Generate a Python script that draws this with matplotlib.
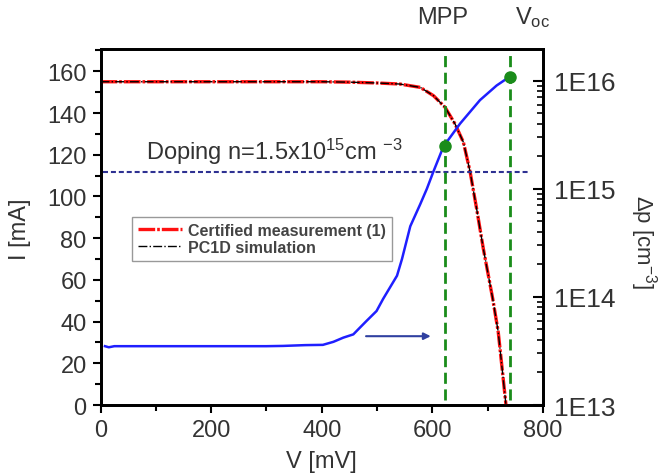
import numpy as np
import matplotlib
matplotlib.use("Agg")
import matplotlib.pyplot as plt
from matplotlib.ticker import MultipleLocator, FuncFormatter, LogLocator, NullFormatter

plt.rcParams['font.family'] = ['Liberation Sans', 'DejaVu Sans']
plt.rcParams['mathtext.default'] = 'regular'

# I-V curve (certified measurement / PC1D simulation coincide)
volt_iv = [0, 100, 200, 300, 400, 450, 500, 541, 578, 602, 623, 641, 656, 668, 680, 692, 709, 719, 733]
current = [155, 155, 155, 155, 155, 154.8, 154.4, 153.9, 152.3, 148.3, 142.7, 134.7, 126, 112, 94, 75, 51, 35, 0]

# excess carrier density along the curve
volt_dp = [8, 15, 25, 100, 200, 300, 330, 370, 402, 421, 439, 457, 469, 481, 499, 511,
           536, 545, 560, 578, 590, 602, 620, 650, 686, 716, 740]
delta_p = [3.5e13, 3.42e13, 3.5e13, 3.5e13, 3.5e13, 3.5e13, 3.52e13, 3.58e13, 3.6e13, 3.84e13,
           4.2e13, 4.5e13, 5.2e13, 6e13, 7.4e13, 9.6e13, 1.57e14, 2.24e14, 4.5e14, 7.2e14,
           1.0e15, 1.45e15, 2.46e15, 4e15, 6.6e15, 9e15, 1.09e16]

v_mpp = 622
v_oc = 740
dp_marks = [2.46e15, 1.09e16]
doping = 1.42e15

fig = plt.figure(figsize=(6.6, 4.77), dpi=100)
ax = fig.add_axes([0.1523, 0.1488, 0.6705, 0.7464])
ax2 = ax.twinx()

# left axis: I-V
ax.plot(volt_iv, current, color='#ff1010', lw=2.4, linestyle=(0, (5, 0.6, 0.8, 0.6)),
        label='Certified measurement (1)', zorder=3)
ax.plot(volt_iv, current, color='black', lw=1.0, linestyle='-.', label='PC1D simulation', zorder=4)
ax.set_xlim(0, 800)
ax.set_ylim(0, 170.7)

# right axis: delta p (log)
ax2.set_yscale('log')
ax2.set_ylim(1e13, 1.96e16)
ax2.plot(volt_dp, delta_p, color='#1f1fff', lw=1.8, zorder=3)
ax2.axhline(doping, xmin=0.005, xmax=0.97, color='#2e3192', lw=1.5, dashes=(2.4, 1.4))
for v in (v_mpp, v_oc):
    ax2.axvline(v, ymin=0.015, ymax=0.995, color='#1a8c1a', lw=2, dashes=(4, 2))
ax2.plot([v_mpp, v_oc], dp_marks, 'o', color='#1a8c1a', ms=8, zorder=5)

ax.annotate('', xy=(602, 33), xytext=(475, 33),
            arrowprops=dict(arrowstyle='-|>', color='#3040a0', lw=1.5, mutation_scale=10))

tc = '#333333'
for s in ax.spines.values():
    s.set_linewidth(2)
for s in ax2.spines.values():
    s.set_linewidth(2)

ax.xaxis.set_major_locator(MultipleLocator(200))
ax.xaxis.set_minor_locator(MultipleLocator(100))
ax.yaxis.set_major_locator(MultipleLocator(20))
ax.yaxis.set_minor_locator(MultipleLocator(10))
ax.tick_params(axis='both', which='major', direction='out', length=6, width=1.5,
               labelsize=17, labelcolor=tc, pad=4)
ax.tick_params(axis='both', which='minor', direction='out', length=4, width=1.5)

ax2.yaxis.set_major_locator(LogLocator(base=10, numticks=10))
ax2.yaxis.set_minor_locator(LogLocator(base=10, subs=np.arange(2, 10), numticks=20))
ax2.yaxis.set_minor_formatter(NullFormatter())
ax2.yaxis.set_major_formatter(FuncFormatter(lambda y, p: '1E%d' % round(np.log10(y))))
ax2.tick_params(axis='y', which='major', direction='in', length=7, width=1.5,
                labelsize=19, labelcolor=tc, pad=8)
ax2.tick_params(axis='y', which='minor', direction='in', length=4, width=1.2)

leg = ax.legend(loc='upper left', bbox_to_anchor=(132 / 660, 1 - 217.7 / 477),
                bbox_transform=fig.transFigure, borderaxespad=0,
                prop={'size': 11.5, 'weight': 'bold'},
                handlelength=2.7, handletextpad=0.4, labelspacing=0.1, borderpad=0.4,
                fancybox=False, framealpha=1, edgecolor='#999999')
for t in leg.get_texts():
    t.set_color('#444444')
leg.set_zorder(6)

fig.text(20 / 660, 1 - 229 / 477, 'I [mA]', rotation=90, ha='center', va='center',
         fontsize=17, color=tc)
fig.text(321.5 / 660, 1 - 462 / 477, 'V [mV]', ha='center', va='center', fontsize=17, color=tc)
fig.text(643 / 660, 1 - 242 / 477, 'Δp [cm$^{-3}$]', rotation=-90, ha='center', va='center',
         fontsize=16, color=tc)
fig.text(443 / 660, 1 - 18 / 477, 'MPP', ha='center', va='center', fontsize=17, color=tc)
fig.text(515 / 660, 1 - 18 / 477, 'V$_{oc}$', ha='left', va='center', fontsize=17, color=tc)
ax.text(82, 118, 'Doping n=1.5x10$^{15}$cm $^{-3}$', ha='left', va='baseline',
        fontsize=17, color=tc)

fig.savefig('out.png', dpi=100)
